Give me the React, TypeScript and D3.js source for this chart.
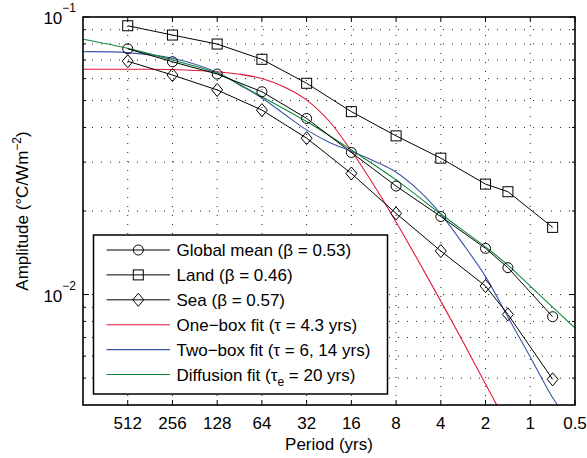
import React from "react";
import * as d3 from "d3";

// marker periods (yrs)
const periods = [512, 256, 128, 64, 32, 16, 8, 4, 2, 1.414, 0.707];
const globalMean = [0.0768, 0.069, 0.0623, 0.0538, 0.0431, 0.0325, 0.0246, 0.0191, 0.01467, 0.0125, 0.00832];
const land = [0.093, 0.0861, 0.0799, 0.0704, 0.0577, 0.0456, 0.0373, 0.031, 0.025, 0.02347, 0.01746];
const sea = [0.0693, 0.0618, 0.0546, 0.0462, 0.0366, 0.0273, 0.0196, 0.01435, 0.01073, 0.00848, 0.00495];

// fit curves
const oneBoxP = [1024, 512, 256, 128, 90.5, 64, 45.3, 32, 22.6, 16, 11.3, 8, 5.66, 4, 2.83, 2, 1.6];
const oneBox = [0.0648, 0.0648, 0.0647, 0.0635, 0.0622, 0.06, 0.0559, 0.0502, 0.0422, 0.0329, 0.0248, 0.01825, 0.0132, 0.00947, 0.00674, 0.00476, 0.00381];
const twoBoxP = [1024, 512, 256, 128, 90.5, 64, 45.3, 32, 22.6, 16, 11.3, 8, 5.66, 4, 2.83, 2, 1.414, 1, 0.707, 0.6];
const twoBox = [0.075, 0.0744, 0.071, 0.0631, 0.0569, 0.0511, 0.0447, 0.0392, 0.0354, 0.0328, 0.0303, 0.0276, 0.0238, 0.0195, 0.0152, 0.0116, 0.0083, 0.00596, 0.00425, 0.00375];
const diffP = [1024, 512, 256, 128, 64, 32, 16, 8, 4, 2, 1.414, 1, 0.707, 0.5];
const diffusion = [0.0831, 0.0771, 0.07, 0.0627, 0.0516, 0.042, 0.0332, 0.0259, 0.0195, 0.01483, 0.01277, 0.01073, 0.00901, 0.00757];

const xTicks = [512, 256, 128, 64, 32, 16, 8, 4, 2, 1, 0.5];
const yMinor = [0.005, 0.006, 0.007, 0.008, 0.009, 0.02, 0.03, 0.04, 0.05, 0.06, 0.07, 0.08, 0.09];

const FONT = "'Liberation Sans', Arial, Helvetica, sans-serif";
const RED = "#e3173a";
const BLUE = "#3a55a8";
const GREEN = "#12883a";

const left = 83, right = 575, top = 17, bottom = 405;

const x = d3.scaleLog().base(2).domain([1024, 0.5]).range([left, right]);
const y = d3.scaleLog().domain([0.004, 0.1]).range([bottom, top]);

const lineGen = d3.line<[number, number]>()
  .x(d => x(d[0]))
  .y(d => y(d[1]));
const curveGen = d3.line<[number, number]>()
  .x(d => x(d[0]))
  .y(d => y(d[1]))
  .curve(d3.curveCatmullRom.alpha(0.5));

const zip = (p: number[], v: number[]) => p.map((d, i) => [d, v[i]] as [number, number]);

function Marker({ kind, cx, cy }: { kind: string; cx: number; cy: number }) {
  if (kind === "o") return <circle cx={cx} cy={cy} r={5} fill="none" stroke="#000" strokeWidth={1} />;
  if (kind === "s") return <rect x={cx - 5} y={cy - 5} width={10} height={10} fill="none" stroke="#000" strokeWidth={1} />;
  return <path d={`M${cx},${cy - 6.5}L${cx + 5.5},${cy}L${cx},${cy + 6.5}L${cx - 5.5},${cy}Z`} fill="none" stroke="#000" strokeWidth={1} />;
}

const legendRows = [
  { kind: "o", color: "#000", label: <>Global mean (β = 0.53)</> },
  { kind: "s", color: "#000", label: <>Land (β = 0.46)</> },
  { kind: "d", color: "#000", label: <>Sea (β = 0.57)</> },
  { kind: "", color: RED, label: <>One−box fit (τ = 4.3 yrs)</> },
  { kind: "", color: BLUE, label: <>Two−box fit (τ = 6, 14 yrs)</> },
  { kind: "", color: GREEN, label: <>Diffusion fit (τ<tspan dy={5} fontSize={12}>e</tspan><tspan dy={-5}> = 20 yrs)</tspan></> },
];

export default function App() {
  const series = [
    { kind: "o", data: zip(periods, globalMean) },
    { kind: "s", data: zip(periods, land) },
    { kind: "d", data: zip(periods, sea) },
  ];
  const fits = [
    { color: RED, data: zip(oneBoxP, oneBox) },
    { color: BLUE, data: zip(twoBoxP, twoBox) },
    { color: GREEN, data: zip(diffP, diffusion) },
  ];
  const gridYs = [...yMinor, 0.01];

  return (
    <div style={{ position: "absolute", left: 0, top: 0 }}>
      <svg width={587} height={458} style={{ display: "block", background: "#fff" }} fontFamily={FONT}>
        <defs>
          <clipPath id="plot">
            <rect x={left} y={top} width={right - left} height={bottom - top} />
          </clipPath>
        </defs>

        {/* grid */}
        <g stroke="#222" strokeWidth={1} strokeDasharray="1,8">
          {xTicks.filter(t => t !== 0.5).map(t => (
            <line key={"gx" + t} x1={x(t)} x2={x(t)} y1={top} y2={bottom} />
          ))}
          {gridYs.map(t => (
            <line key={"gy" + t} x1={left} x2={right} y1={y(t)} y2={y(t)} />
          ))}
        </g>

        {/* ticks */}
        <g stroke="#000" strokeWidth={1}>
          {xTicks.map(t => (
            <g key={"tx" + t}>
              <line x1={x(t)} x2={x(t)} y1={bottom} y2={bottom - 5} />
              <line x1={x(t)} x2={x(t)} y1={top} y2={top + 5} />
            </g>
          ))}
          {yMinor.map(t => (
            <g key={"ty" + t}>
              <line x1={left} x2={left + 3} y1={y(t)} y2={y(t)} />
              <line x1={right} x2={right - 3} y1={y(t)} y2={y(t)} />
            </g>
          ))}
          {[0.01, 0.1].map(t => (
            <g key={"tM" + t}>
              <line x1={left} x2={left + 6} y1={y(t)} y2={y(t)} />
              <line x1={right} x2={right - 6} y1={y(t)} y2={y(t)} />
            </g>
          ))}
        </g>

        {/* data */}
        <g clipPath="url(#plot)">
          {fits.map((f, i) => (
            <path key={"f" + i} d={curveGen(f.data) || ""} fill="none" stroke={f.color} strokeWidth={1.1} />
          ))}
          {series.map((s, i) => (
            <g key={"s" + i}>
              <path d={lineGen(s.data) || ""} fill="none" stroke="#000" strokeWidth={1} />
              {s.data.map((d, j) => (
                <Marker key={j} kind={s.kind} cx={x(d[0])} cy={y(d[1])} />
              ))}
            </g>
          ))}
        </g>

        {/* box */}
        <rect x={left} y={top} width={right - left} height={bottom - top} fill="none" stroke="#000" strokeWidth={1.6} />

        {/* x tick labels */}
        <g fontSize={17} textAnchor="middle" fill="#000">
          {xTicks.map(t => (
            <text key={"lx" + t} x={x(t)} y={428.5}>{t}</text>
          ))}
        </g>
        <text x={(left + right) / 2} y={449.5} fontSize={17} textAnchor="middle">Period (yrs)</text>

        {/* y tick labels */}
        {[
          { v: 0.1, e: "−1" },
          { v: 0.01, e: "−2" },
        ].map(d => (
          <text key={d.e} x={76} y={y(d.v) + 7} fontSize={17} textAnchor="end">
            10<tspan dy={-12} fontSize={12}>{d.e}</tspan>
          </text>
        ))}
        <text transform={`translate(28,${(top + bottom) / 2}) rotate(-90)`} fontSize={17} textAnchor="middle">
          Amplitude (°C/Wm<tspan dy={-7} fontSize={12}>−2</tspan><tspan dy={7}>)</tspan>
        </text>

        {/* legend */}
        <rect x={93.5} y={235} width={294} height={159} fill="#fff" stroke="#000" strokeWidth={1.5} />
        {legendRows.map((r, i) => {
          const ly = 250 + i * 24.9;
          return (
            <g key={"lg" + i}>
              <line x1={106.5} x2={170} y1={ly} y2={ly} stroke={r.color} strokeWidth={r.kind ? 1 : 1.1} />
              {r.kind && <Marker kind={r.kind} cx={138.3} cy={ly} />}
              <text x={176.5} y={ly + 6} fontSize={17}>{r.label}</text>
            </g>
          );
        })}
      </svg>
    </div>
  );
}
